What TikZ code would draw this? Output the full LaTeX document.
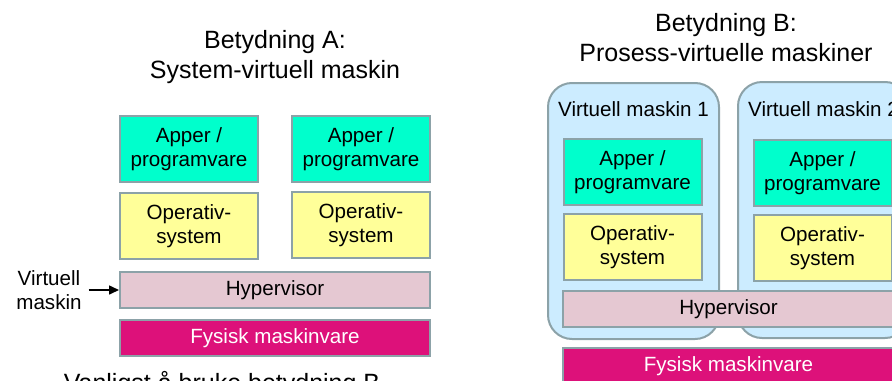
\documentclass[tikz,border=0pt]{standalone}
\usepackage{fontspec}
\setmainfont{Liberation Sans}
\usetikzlibrary{arrows.meta, positioning}
\definecolor{appteal}{RGB}{0, 255, 204}
\definecolor{osyellow}{RGB}{255, 255, 153}
\definecolor{hyppink}{RGB}{229, 200, 210}
\definecolor{hwmagenta}{RGB}{221, 17, 122}
\definecolor{vmblue}{RGB}{204, 236, 255}
\definecolor{edgegray}{RGB}{140, 162, 168}

\begin{document}
\begin{tikzpicture}[x=0.5pt, y=-0.5pt,
    every node/.style={font=\fontsize{10.3}{12}\selectfont, align=center},
    layer/.style={draw=edgegray, line width=1pt, inner sep=0pt},
    appbox/.style={layer, fill=appteal, minimum width=69pt, minimum height=33pt},
    osbox/.style={layer, fill=osyellow, minimum width=69pt, minimum height=33pt},
    hypbox/.style={layer, fill=hyppink, minimum height=18pt},
    hwbox/.style={layer, fill=hwmagenta, text=white, minimum height=18pt},
    vmbox/.style={draw=edgegray, line width=1pt, fill=vmblue, rounded corners=12pt,
      minimum width=85.5pt, minimum height=128pt},
    heading/.style={font=\fontsize{12.5}{15}\selectfont}]
  \useasboundingbox (0,0) rectangle (892,380);
  \clip (0,0) rectangle (892,380);

  % Meaning A: system virtual machine
  \node[heading] (titleA) at (275,57) {Betydning A:\\System-virtuell maskin};
  \node[appbox] (appA1) at (189,149) {Apper /\\programvare};
  \node[appbox] (appA2) at (361,149) {Apper /\\programvare};
  \node[osbox] (osA1) at (189,226) {Operativ-\\system};
  \node[osbox] (osA2) at (361,225) {Operativ-\\system};
  \node[hypbox, minimum width=155pt] (hypA) at (275,290) {Hypervisor};
  \node[hwbox, minimum width=155pt] (hwA) at (275,338) {Fysisk maskinvare};

  % side label with arrow
  \node (vmlabel) at (49,290) {Virtuell\\maskin};
  \draw[line width=0.8pt, -{Triangle[length=5pt, width=4.5pt]}] (vmlabel.east) -- (hypA.west);

  \node[heading, anchor=base] (note) at (222,391) {Vanligst å bruke betydning B};

  % Meaning B: process virtual machines
  \node[heading] (titleB) at (726,38) {Betydning B:\\Prosess-virtuelle maskiner};
  \node[vmbox] (vm1) at (633.5,211) {};
  \node[vmbox] (vm2) at (823.5,210) {};
  \node[below=6.5pt of vm1.north] (vm1name) {Virtuell maskin 1};
  \node[below=7pt of vm2.north] (vm2name) {Virtuell maskin 2};
  \node[appbox] (appB1) at (632.5,172) {Apper /\\programvare};
  \node[appbox] (appB2) at (822.5,173) {Apper /\\programvare};
  \node[osbox] (osB1) at (632.5,247) {Operativ-\\system};
  \node[osbox] (osB2) at (822.5,248) {Operativ-\\system};
  \node[hypbox, minimum width=165.5pt] (hypB) at (728.5,309) {Hypervisor};
  \node[hwbox, minimum width=165.5pt] (hwB) at (728.5,366) {Fysisk maskinvare};
\end{tikzpicture}
\end{document}
